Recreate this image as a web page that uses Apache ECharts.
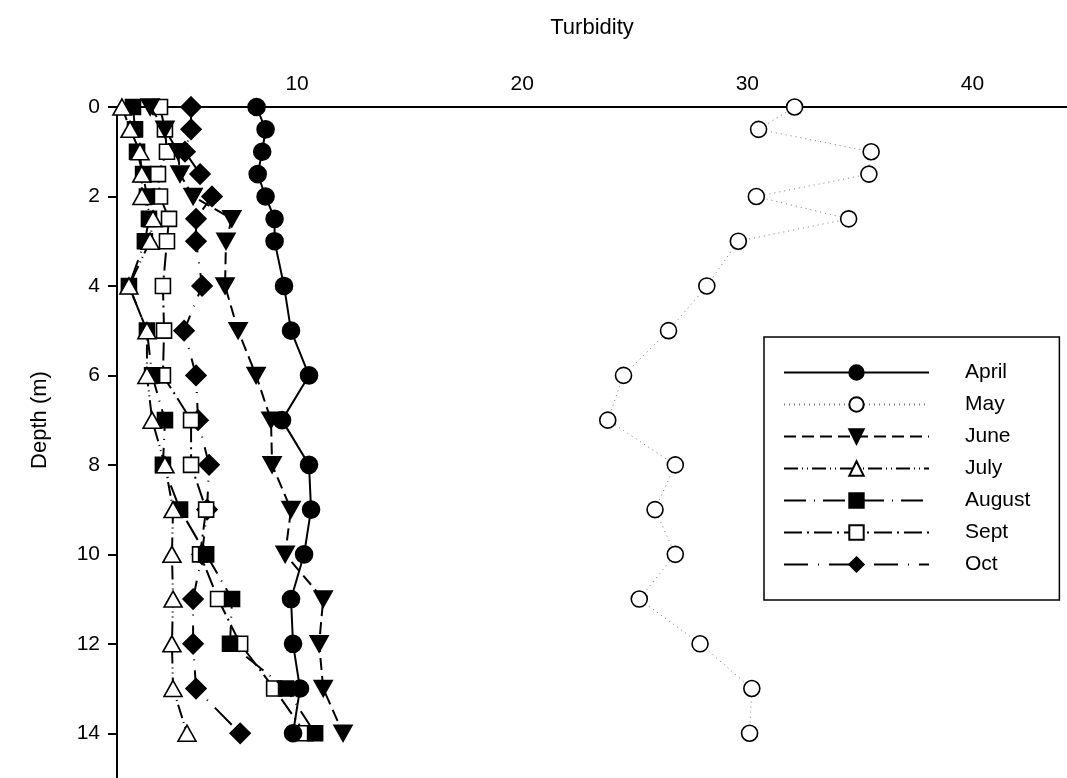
<!DOCTYPE html>
<html>
<head>
<meta charset="utf-8">
<script src="https://cdn.jsdelivr.net/npm/echarts@6/dist/echarts.min.js"></script>
<style>
html,body{margin:0;padding:0;background:#fff;}
#chart{width:1067px;height:778px;}
</style>
</head>
<body>
<div id="chart"></div>
<script>
// Depth (m)
var depths = [0, 0.5, 1, 1.5, 2, 2.5, 3, 4, 5, 6, 7, 8, 9, 10, 11, 12, 13, 14];
// Turbidity per month
var april = [8.2, 8.6, 8.45, 8.25, 8.6, 9.0, 9.0, 9.42, 9.73, 10.53, 9.33, 10.53, 10.62, 10.31, 9.73, 9.82, 10.13, 9.82];
var may   = [32.1, 30.5, 35.5, 35.4, 30.4, 34.5, 29.6, 28.2, 26.5, 24.5, 23.8, 26.8, 25.9, 26.8, 25.2, 27.9, 30.2, 30.1];
var june  = [3.47, 4.13, 4.71, 4.8, 5.38, 7.1, 6.84, 6.8, 7.38, 8.18, 8.84, 8.89, 9.73, 9.47, 11.16, 10.98, 11.16, 12.04];
var july  = [2.22, 2.58, 3.02, 3.1, 3.11, 3.6, 3.47, 2.53, 3.33, 3.33, 3.56, 4.13, 4.49, 4.44, 4.49, 4.44, 4.49, 5.11];
var august= [2.71, 2.8, 2.89, 3.16, 3.33, 3.42, 3.24, 2.53, 3.33, 3.56, 4.13, 4.04, 4.8, 5.96, 7.11, 7.02, 9.51, 10.8];
var sept  = [3.91, 4.13, 4.22, 3.82, 3.91, 4.31, 4.22, 4.04, 4.09, 4.04, 5.29, 5.29, 5.96, 5.69, 6.49, 7.47, 8.98, 10.36];
var oct   = [5.29, 5.29, 5.02, 5.69, 6.22, 5.51, 5.51, 5.78, 4.98, 5.51, 5.6, 6.09, 6.0, 5.78, 5.38, 5.38, 5.51, 7.47];
var months = ['April', 'May', 'June', 'July', 'August', 'Sept', 'Oct'];
var xTicks = [10, 20, 30, 40];
var yTicks = [0, 2, 4, 6, 8, 10, 12, 14];

var FONT = 'Liberation Sans, Arial, sans-serif';
function pts(arr){ return arr.map(function(v,i){ return [v, depths[i]]; }); }

var styles = [
  {data: april, symbol:'circle', size:17, fill:'#000', line:'solid', lc:'#000', lw:2},
  {data: may, symbol:'circle', size:16, fill:'#fff', line:[1,4], lc:'#777', lw:1},
  {data: june, symbol:'triangle', size:[18,16], rot:180, fill:'#000', line:[12,6], lc:'#000', lw:2},
  {data: july, symbol:'triangle', size:[18,16], fill:'#fff', line:[14,4,1,4,1,4], lc:'#000', lw:2},
  {data: august, symbol:'rect', size:15, fill:'#000', line:[22,8,1,8], lc:'#000', lw:2},
  {data: sept, symbol:'rect', size:15, fill:'#fff', line:[18,5,2,5], lc:'#000', lw:2},
  {data: oct, symbol:'diamond', size:20, fill:'#000', line:[24,10,1,10], lc:'#000', lw:2}
];

var series = styles.map(function(s, k){
  return {
    name: months[k],
    type: 'line',
    data: pts(s.data),
    symbol: s.symbol,
    symbolSize: s.size,
    symbolRotate: s.rot || 0,
    showAllSymbol: true,
    clip: false,
    z: 10 - k,
    lineStyle: {color: s.lc, width: s.lw, type: s.line},
    itemStyle: {color: s.fill, borderColor: '#000', borderWidth: 1.6, opacity: 1},
    emphasis: {disabled: true},
    animation: false
  };
});

var chart = echarts.init(document.getElementById('chart'), null, {renderer: 'canvas'});
chart.setOption({
  backgroundColor: '#fff',
  animation: false,
  textStyle: {fontFamily: FONT},
  grid: {left: 117, top: 107, right: 0, bottom: 0, containLabel: false},
  graphic: [{
    type: 'text',
    x: 40, y: 420,
    rotation: Math.PI / 2,
    style: {text: 'Depth (m)', fontSize: 22, fill: '#000', fontFamily: FONT, align: 'center', verticalAlign: 'middle'}
  }],
  xAxis: {
    type: 'value',
    position: 'top',
    min: 2,
    max: 44.2,
    name: 'Turbidity',
    nameLocation: 'middle',
    nameGap: 68,
    nameTextStyle: {fontSize: 22, color: '#000', fontFamily: FONT},
    axisLine: {show: true, onZero: false, lineStyle: {color: '#000', width: 2}},
    axisTick: {show: false},
    splitLine: {show: false},
    axisLabel: {customValues: xTicks, fontSize: 21, color: '#000', margin: 12, fontFamily: FONT}
  },
  yAxis: {
    type: 'value',
    inverse: true,
    min: 0,
    max: 15,
    axisLine: {show: true, onZero: false, lineStyle: {color: '#000', width: 2}},
    axisTick: {show: true, customValues: yTicks, length: 9, lineStyle: {color: '#000', width: 2}},
    splitLine: {show: false},
    axisLabel: {customValues: yTicks, fontSize: 21, color: '#000', margin: 17, fontFamily: FONT}
  },
  legend: {
    orient: 'vertical',
    left: 764,
    top: 337,
    padding: [25, 29, 25, 19],
    borderColor: '#000',
    borderWidth: 1.5,
    itemWidth: 145,
    itemHeight: 18,
    itemGap: 11,
    selectedMode: false,
    textStyle: {fontSize: 21, color: '#000', lineHeight: 19, padding: [0, 0, 0, 31], fontFamily: FONT},
    data: months
  },
  series: series
});
</script>
</body>
</html>
